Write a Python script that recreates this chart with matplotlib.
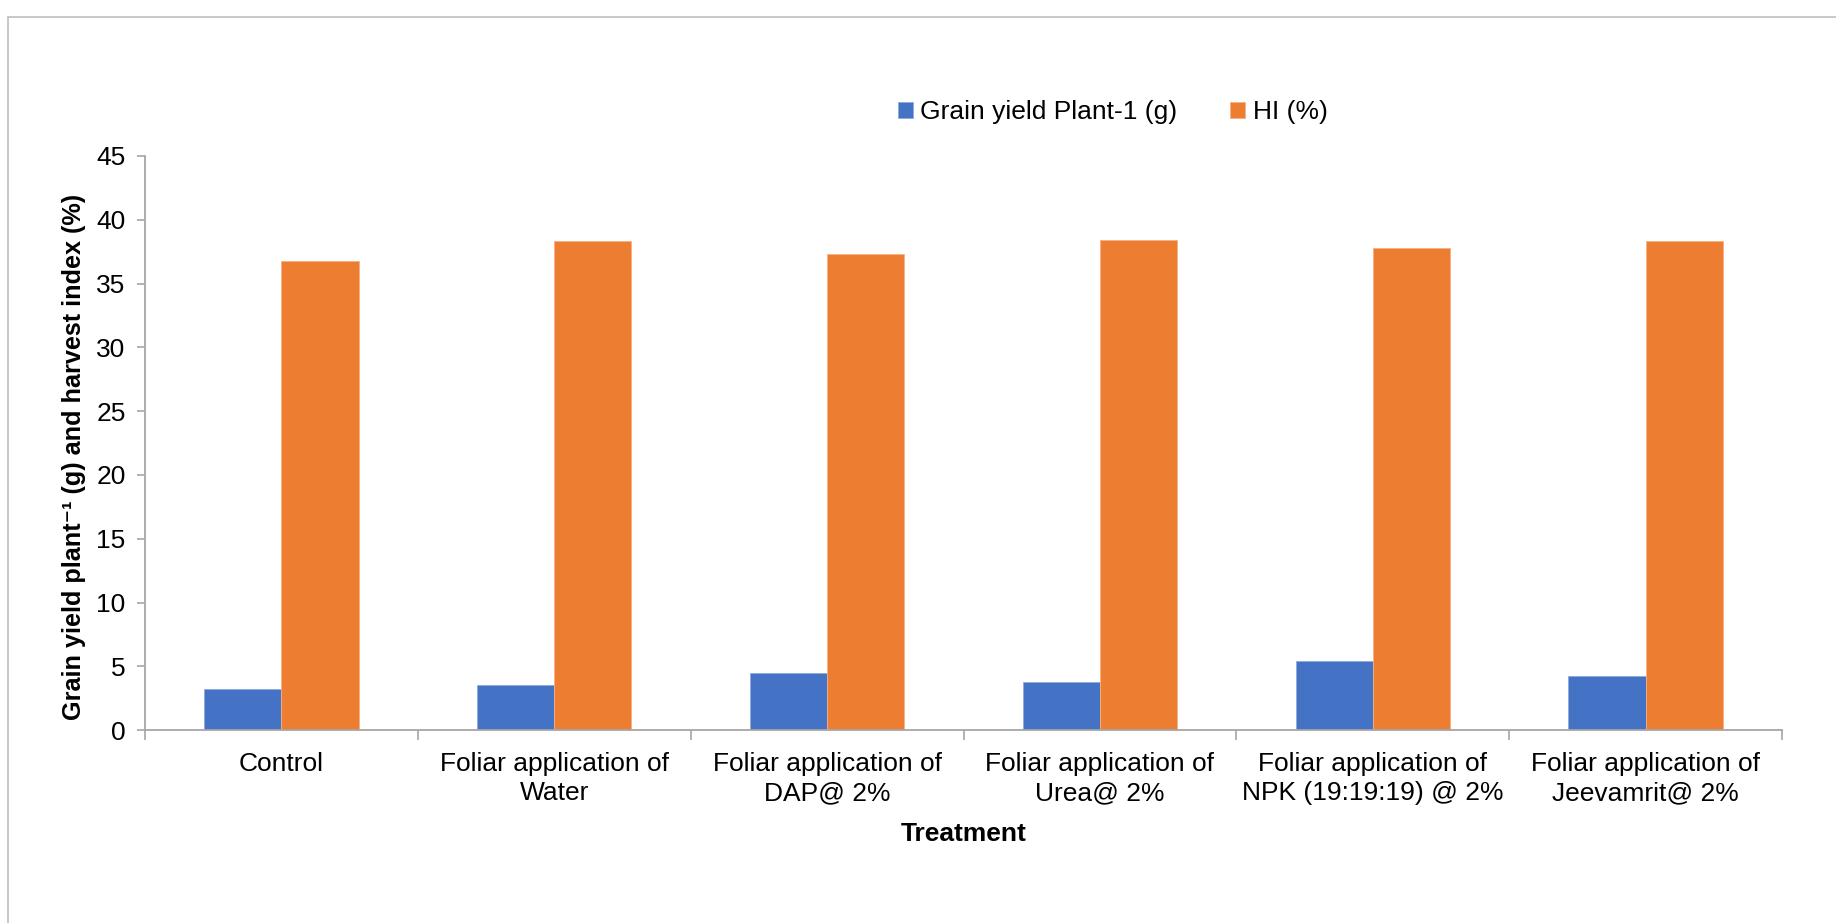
import numpy as np
import matplotlib.pyplot as plt
from matplotlib.patches import Rectangle

plt.rcParams['font.family'] = ['Liberation Sans', 'DejaVu Sans']

treatments = ['Control', 'Foliar application of\nWater', 'Foliar application of\nDAP@ 2%',
              'Foliar application of\nUrea@ 2%', 'Foliar application of\nNPK (19:19:19) @ 2%',
              'Foliar application of\nJeevamrit@ 2%']
grain_yield = [3.2, 3.5, 4.45, 3.8, 5.45, 4.25]
hi_pct = [36.8, 38.3, 37.3, 38.4, 37.75, 38.3]

blue = '#4472C4'
orange = '#ED7D31'
grey = '#A6A6A6'

fig = plt.figure(figsize=(18.36, 9.23), dpi=100)
ax = fig.add_axes([0.079, 0.209, 0.8916, 0.622])

x = np.arange(len(treatments)) + 0.5
w = 0.283
ax.bar(x - w / 2, grain_yield, w, color=blue, edgecolor='#8FAADC', linewidth=0.6,
       label='Grain yield Plant-1 (g)')
ax.bar(x + w / 2, hi_pct, w, color=orange, edgecolor='#F4B183', linewidth=0.6,
       label='HI (%)')

ax.set_xlim(0, len(treatments))
ax.set_ylim(0, 45)
ax.set_yticks(np.arange(0, 46, 5))
ax.set_xticks(x)
ax.set_xticklabels(treatments, fontsize=19, linespacing=1.25)
ax.set_xticks(np.arange(0, len(treatments) + 1), minor=True)
ax.tick_params(axis='x', which='major', length=0, pad=16)
ax.tick_params(axis='x', which='minor', length=7, width=1.2, color=grey)
ax.tick_params(axis='y', length=6, width=1.2, color=grey, labelsize=19, pad=8)

for s in ['top', 'right']:
    ax.spines[s].set_visible(False)
for s in ['left', 'bottom']:
    ax.spines[s].set_color(grey)
    ax.spines[s].set_linewidth(1.3)

ax.set_xlabel('Treatment', fontsize=19, fontweight='bold', labelpad=12)
ax.set_ylabel('Grain yield plant⁻¹ (g) and harvest index (%)', fontsize=18.2,
              fontweight='bold')
ax.yaxis.set_label_coords(-0.036, 0.475)

fig.legend(loc='center left', bbox_to_anchor=(898 / 1836, 1 - 112 / 923), ncol=2,
           frameon=False, fontsize=19, handlelength=0.55, handleheight=0.55,
           handletextpad=0.3, columnspacing=2.0, borderpad=0, borderaxespad=0)

# outer chart border
fig.patches.append(Rectangle((8 / 1836, -0.1), 1.2, 1 - 17 / 923 + 0.1,
                             transform=fig.transFigure, fill=False,
                             edgecolor='#BFBFBF', linewidth=1.2))

fig.savefig('out.png', dpi=100)
